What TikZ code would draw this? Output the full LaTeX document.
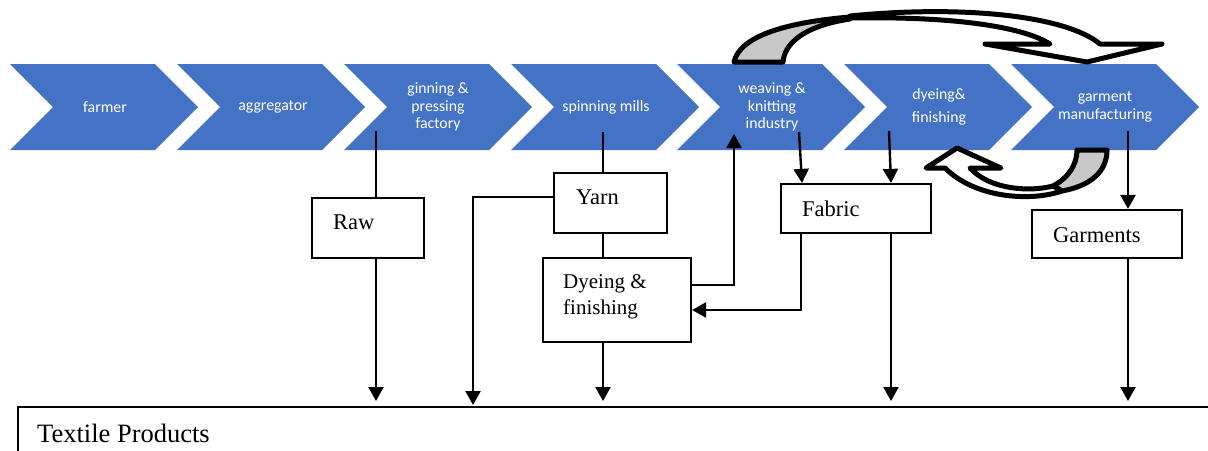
\documentclass[tikz,border=0pt]{standalone}
\usepackage{fontspec}
\setmainfont{Liberation Serif}
\newfontfamily\calib{Carlito}
\usetikzlibrary{arrows.meta,calc}
\definecolor{chevblue}{HTML}{4472C4}
\definecolor{arrgray}{HTML}{C8C8C8}
\begin{document}
\begin{tikzpicture}[x=1pt,y=-1pt,
 chevtxt/.style={text=white,font=\calib\fontsize{15.8}{17.5}\selectfont,align=center,inner sep=0pt},
 box/.style={draw=black,line width=2.2pt,inner sep=0pt,fill=white},
 btxt/.style={font=\fontsize{22.5}{26}\selectfont,inner sep=0pt,anchor=west,align=left},
 conn/.style={draw=black,line width=2.4pt},
 arr/.style={conn,-{Triangle[width=15pt,length=14pt]}},
 bigarr/.style={draw=black,line width=5pt,line join=round,fill=white},
]
\useasboundingbox (0,0) rectangle (1208,450);
% chevrons
\foreach \L in {10,177,344,511,677,844,1011}
  \fill[chevblue] (\L,64) -- ++(145,0) -- ++(43,43) -- ++(-43,43) -- ++(-145,0) -- ++(43,-43) -- cycle;
\node[chevtxt] (farmer) at (105,107) {farmer};
\node[chevtxt] (aggr) at (273,107) {aggregator};
\node[chevtxt] (gin) at (438,107) {ginning \&\\pressing\\factory};
\node[chevtxt] (spin) at (606,107) {spinning mills};
\node[chevtxt] (weav) at (772,107) {weaving \&\\knitting\\industry};
\node[chevtxt] (dyef) at (939,107) {dyeing\&\\[5pt]finishing};
\node[chevtxt] (garm) at (1105,107) {garment\\manufacturing};
% connector start points inside chevrons
\coordinate (ginS) at (376,131);
\coordinate (spinS) at (603,132);
\coordinate (wvIn) at (734,134);
\coordinate (wvS) at (799,132);
\coordinate (dfS) at (889,131);
\coordinate (gmS) at (1128,131);
% boxes
\node[box,minimum width=112pt,minimum height=60pt] (raw) at (368,228) {};
\node[btxt] (rawT) at (333,222) {Raw};
\node[box,minimum width=113pt,minimum height=60pt] (yarn) at (610.5,203) {};
\node[btxt] (yarnT) at (576,197) {Yarn};
\node[box,minimum width=148pt,minimum height=84pt] (dye) at (617,300) {};
\node[btxt,font=\fontsize{21}{26}\selectfont] (dyeT) at (563,297) {Dyeing \&\\finishing};
\node[box,minimum width=150pt,minimum height=49pt] (fab) at (856,208.5) {};
\node[btxt] (fabT) at (802,209) {Fabric};
\node[box,minimum width=150pt,minimum height=48pt] (garb) at (1107,234) {};
\node[btxt] (garbT) at (1053,235) {Garments};
\node[box,minimum width=1230pt,minimum height=90pt,anchor=north west] (tex) at (17,406) {};
\node[btxt,font=\fontsize{26.5}{30}\selectfont] (texT) at (37,433) {Textile Products};
% connectors
\draw[conn] (ginS) -- (ginS |- raw.north);
\draw[arr,shorten >=5pt] (ginS |- raw.south) -- (ginS |- tex.north);
\draw[conn] (spinS) -- (spinS |- yarn.north);
\draw[conn] (spinS |- yarn.south) -- (spinS |- dye.north);
\draw[arr,shorten >=5pt] (spinS |- dye.south) -- (spinS |- tex.north);
\coordinate (yarnL) at ($(yarn.west)+(0,-6)$);
\coordinate (yarnTurn) at (473,197);
\draw[arr,shorten >=1pt] (yarnL) -- (yarnTurn) -- (yarnTurn |- tex.north);
\coordinate (dyeR) at ($(dye.east)+(0,-15)$);
\draw[arr] (dyeR) -- (dyeR -| wvIn) -- (wvIn);
\draw[arr] (wvS) -- ($(fab.north)+(-54,0)$);
\draw[arr] (dfS) -- ($(fab.north)+(35,0)$);
\coordinate (fabL) at ($(fab.south)+(-55,0)$);
\coordinate (dyeR2) at ($(dye.east)+(0,10)$);
\draw[arr] (fabL) -- (fabL |- dyeR2) -- (dyeR2);
\coordinate (fabR) at ($(fab.south)+(35,0)$);
\draw[arr,shorten >=5pt] (fabR) -- (fabR |- tex.north);
\draw[arr] (gmS) -- (gmS |- garb.north);
\draw[arr,shorten >=5pt] (gmS |- garb.south) -- (gmS |- tex.north);
% curved block arrows
\draw[bigarr,fill=arrgray] (734,62) .. controls (740,35) and (790,22) .. (850,17) -- (850,19) .. controls (810,25) and (785,40) .. (783,62) -- cycle;
\draw[bigarr] (850,16) .. controls (960,5) and (1065,15) .. (1100,44) -- (1162,44) -- (1087,62) -- (985,44) -- (1050,44) .. controls (1025,28) and (960,16) .. (850,18) -- cycle;
\draw[bigarr,fill=arrgray] (1077,150) -- (1107,150) .. controls (1107,172) and (1090,186) .. (1062,191) -- (1053,186) .. controls (1068,178) and (1077,165) .. (1077,150) -- cycle;
\draw[bigarr] (1062,191) .. controls (1030,202) and (975,198) .. (945,168) -- (926,168) -- (957,148) -- (1001,168) -- (970,168) .. controls (990,190) and (1030,192) .. (1053,186) -- cycle;
\end{tikzpicture}
\end{document}
